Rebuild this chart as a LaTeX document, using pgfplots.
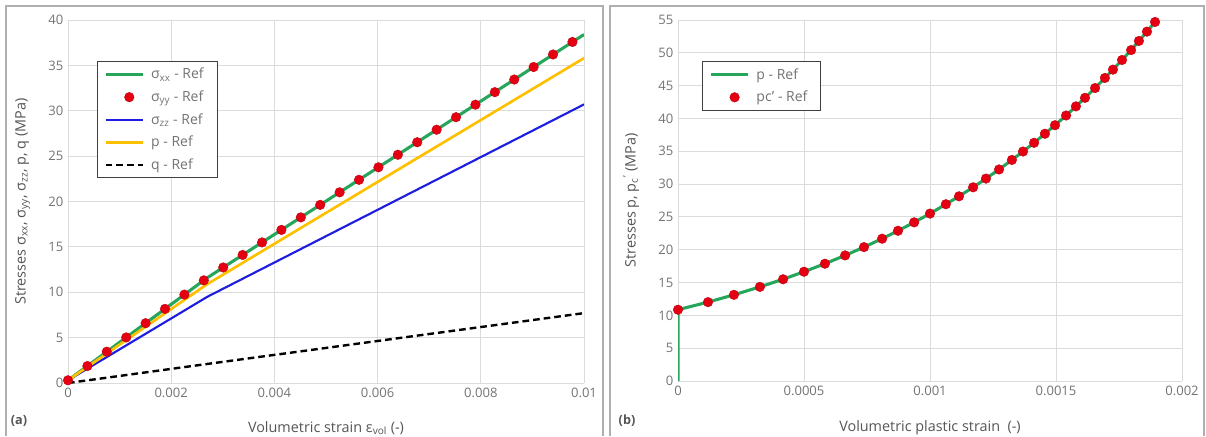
\documentclass[border=0pt]{standalone}
\usepackage{fontspec}
\setmainfont{Open Sans}
\usepackage{pgfplots}
\pgfplotsset{compat=1.18}
\definecolor{cgreen}{RGB}{38,166,90}
\definecolor{cred}{RGB}{228,0,18}
\definecolor{cblue}{RGB}{30,30,225}
\definecolor{cyellow}{RGB}{255,192,0}
\definecolor{cgrid}{RGB}{219,219,219}
\definecolor{ctext}{RGB}{115,115,115}
\definecolor{clabel}{RGB}{85,85,85}
\definecolor{cframe}{RGB}{175,175,175}

\pgfplotsset{
  myax/.style={
    scale only axis, anchor=south west,
    grid=major, major grid style={cgrid, line width=0.7pt},
    axis line style={draw=none},
    tick style={draw=none},
    scaled ticks=false,
    ticklabel style={font=\fontsize{9.8}{11}\selectfont, text=ctext},
    label style={font=\fontsize{10.8}{12}\selectfont, text=clabel},
    legend style={font=\fontsize{10.5}{12}\selectfont, text=ctext, draw=black!75, line width=0.8pt,
      inner xsep=5pt, inner ysep=3pt, row sep=3.4pt, anchor=north west, cells={anchor=west},
      nodes={inner xsep=5pt}},
    legend cell align=left,
  },
  lineleg/.style={legend image code/.code={\draw[##1, mark=none] (0pt,0pt) -- (28pt,0pt);}},
  dotleg/.style={legend image code/.code={\path (14pt,0pt) node[circle, fill=cred, draw=cred!85!black, line width=0.3pt, inner sep=0pt, minimum size=7.2pt]{};}},
}

\begin{document}
\begin{tikzpicture}[x=0.75pt,y=0.75pt]
\path[use as bounding box] (0,0) rectangle (1206,436);
\draw[cframe, line width=0.9pt] (6,0) -- (6,430) -- (603,430) -- (603,0);
\draw[cframe, line width=0.9pt] (610,0) -- (610,430) -- (1204,430) -- (1204,0);

\begin{axis}[myax, at={(51pt,39.75pt)}, width=387pt, height=272.25pt,
  xmin=0, xmax=0.01, ymin=0, ymax=40,
  xtick={0,0.002,0.004,0.006,0.008,0.01},
  xticklabels={0,0.002,0.004,0.006,0.008,0.01},
  ytick={0,5,10,15,20,25,30,35,40},
  yticklabels={0,5,10,15,20,25,30,35,40},
  xlabel={Volumetric strain ε\textsubscript{vol} (-)},
  ylabel={Stresses σ\textsubscript{xx}, σ\textsubscript{yy}, σ\textsubscript{zz}, p, q (MPa)},
  xlabel style={at={(axis description cs:0.5,-0.124)}, anchor=center},
  ylabel style={at={(axis description cs:-0.088,0.5)}, anchor=center},
  legend style={at={(axis description cs:0.056,0.887)}},
]
\addplot[cgreen, line width=2.3pt, lineleg] coordinates {(0,0.3) (0.0027,11.6) (0.01,38.4)};
\addlegendentry{σ\textsubscript{xx} - Ref}
\addplot[only marks, mark=*, mark size=3.6pt, mark options={fill=cred, draw=cred!85!black, line width=0.3pt}, dotleg] coordinates {
(0,0.3) (0.000376,1.87) (0.000752,3.45) (0.001128,5.02) (0.001504,6.59) (0.00188,8.17)
(0.002256,9.74) (0.002632,11.31) (0.003008,12.73) (0.003384,14.11) (0.00376,15.49)
(0.004136,16.87) (0.004512,18.25) (0.004888,19.63) (0.005264,21.01) (0.00564,22.39)
(0.006016,23.77) (0.006392,25.15) (0.006768,26.53) (0.007144,27.91) (0.00752,29.29)
(0.007896,30.67) (0.008272,32.05) (0.008648,33.44) (0.009024,34.82) (0.0094,36.20)
(0.009776,37.58)};
\addlegendentry{σ\textsubscript{yy} - Ref}
\addplot[cblue, line width=1.6pt, lineleg] coordinates {(0,0.3) (0.0027,9.5) (0.01,30.7)};
\addlegendentry{σ\textsubscript{zz} - Ref}
\addplot[cyellow, line width=2pt, lineleg] coordinates {(0,0.3) (0.0027,10.9) (0.01,35.8)};
\addlegendentry{p - Ref}
\addplot[black, line width=1.8pt, dash pattern=on 5pt off 3pt, lineleg] coordinates {(0,0) (0.0027,2.1) (0.01,7.7)};
\addlegendentry{q - Ref}
\end{axis}
\node[font=\bfseries\fontsize{9.5}{11}\selectfont, text=clabel] at (19,15) {(a)};

\begin{axis}[myax, at={(508.5pt,41.25pt)}, width=378pt, height=270.75pt,
  xmin=0, xmax=0.002, ymin=0, ymax=55,
  xtick={0,0.0005,0.001,0.0015,0.002},
  xticklabels={0,0.0005,0.001,0.0015,0.002},
  ytick={0,5,10,15,20,25,30,35,40,45,50,55},
  yticklabels={0,5,10,15,20,25,30,35,40,45,50,55},
  xlabel={Volumetric plastic strain \ (-)},
  ylabel={Stresses p, p\textsubscript{c}\textsuperscript{'} (MPa)},
  xlabel style={at={(axis description cs:0.5,-0.13)}, anchor=center},
  ylabel style={at={(axis description cs:-0.093,0.5)}, anchor=center},
  legend style={at={(axis description cs:0.048,0.886)}},
]
\addplot[cgreen, line width=2.3pt, lineleg] coordinates {
(0,0) (0,10.86) (0.000119,12.02) (0.000222,13.13) (0.000325,14.34) (0.000417,15.50)
(0.000500,16.65) (0.000583,17.87) (0.000663,19.13) (0.000738,20.40) (0.000810,21.68)
(0.000873,22.89) (0.000937,24.17) (0.001000,25.51) (0.001063,26.93) (0.001115,28.14)
(0.001171,29.51) (0.001222,30.84) (0.001274,32.23) (0.001325,33.68) (0.001369,34.96)
(0.001413,36.29) (0.001456,37.67) (0.001496,38.97) (0.001540,40.45) (0.001579,41.84)
(0.001615,43.14) (0.001655,44.63) (0.001694,46.17) (0.001726,47.44) (0.001762,48.91)
(0.001798,50.42) (0.001829,51.81) (0.001861,53.23) (0.001893,54.70)};
\addlegendentry{p - Ref}
\addplot[only marks, mark=*, mark size=3.6pt, mark options={fill=cred, draw=cred!85!black, line width=0.3pt}, dotleg] coordinates {
(0,10.86) (0.000119,12.02) (0.000222,13.13) (0.000325,14.34) (0.000417,15.50)
(0.000500,16.65) (0.000583,17.87) (0.000663,19.13) (0.000738,20.40) (0.000810,21.68)
(0.000873,22.89) (0.000937,24.17) (0.001000,25.51) (0.001063,26.93) (0.001115,28.14)
(0.001171,29.51) (0.001222,30.84) (0.001274,32.23) (0.001325,33.68) (0.001369,34.96)
(0.001413,36.29) (0.001456,37.67) (0.001496,38.97) (0.001540,40.45) (0.001579,41.84)
(0.001615,43.14) (0.001655,44.63) (0.001694,46.17) (0.001726,47.44) (0.001762,48.91)
(0.001798,50.42) (0.001829,51.81) (0.001861,53.23) (0.001893,54.70)};
\addlegendentry{pc' - Ref}
\end{axis}
\node[font=\bfseries\fontsize{9.5}{11}\selectfont, text=clabel] at (627,15) {(b)};
\end{tikzpicture}
\end{document}
